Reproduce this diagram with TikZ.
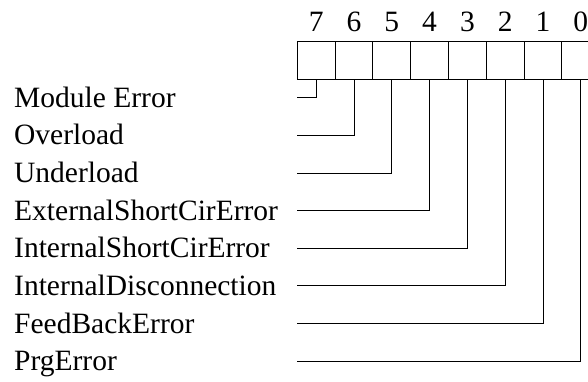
\documentclass[tikz,border=0pt]{standalone}
\usepackage{fontspec}
\setmainfont{Liberation Serif}
\begin{document}
\begin{tikzpicture}[x=1pt,y=-1pt,
  cell/.style={draw,line width=1pt,minimum width=37.8pt,minimum height=38pt,inner sep=0pt,outer sep=0pt,anchor=north west},
  lbl/.style={anchor=base west,inner sep=0pt,font=\fontsize{29.5}{35}\selectfont},
  digit/.style={anchor=base,inner sep=0pt,font=\fontsize{29.5}{35}\selectfont},
  wire/.style={line width=1pt}]
\useasboundingbox (0,0) rectangle (588,381);
\begin{scope}
\clip (0,0) rectangle (588,381);
\foreach \b [count=\i from 0] in {7,6,5,4,3,2,1,0}{
  \node[cell] (c\b) at ({297.3+37.8*\i},41) {};
  \node[digit] (d\b) at ({316.2+37.8*\i},31.7) {\b};
}
\end{scope}
\foreach \b/\t [count=\i from 0] in {7/Module Error,6/Overload,5/Underload,4/ExternalShortCirError,3/InternalShortCirError,2/InternalDisconnection,1/FeedBackError,0/PrgError}{
  \node[lbl] (l\b) at (14,{97.7+37.65*\i+9.6}) {\t};
  \coordinate (s\b) at (297,{97.7+37.65*\i});
  \draw[wire] (c\b.south) |- (s\b);
}
\end{tikzpicture}
\end{document}
